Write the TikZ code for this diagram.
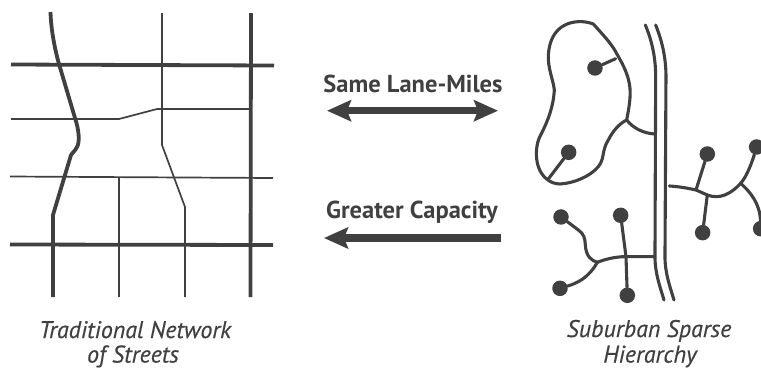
\documentclass[tikz,border=0pt]{standalone}
\usepackage{fontspec}
\setmainfont{PT Sans}
\newfontfamily\capfont[FakeBold=0.4]{PT Sans}
\usetikzlibrary{arrows.meta}
\definecolor{ink}{HTML}{404040}
\tikzset{
  heavy/.style={draw=ink,line width=3.8pt},
  light/.style={draw=ink,line width=1.7pt},
  lane/.style={draw=ink,line width=3.1pt,line cap=round,line join=round},
  dot/.style={circle,fill=ink,inner sep=0pt,minimum size=15.5pt},
  bigarrow/.style={draw=ink,line width=7.5pt},
  boldlabel/.style={text=ink,inner sep=0pt,anchor=base,font=\fontsize{24.5}{28}\selectfont\bfseries},
  caption/.style={text=ink,inner sep=0pt,anchor=base,font=\fontsize{24}{28}\selectfont\capfont\itshape}
}
\begin{document}
\begin{tikzpicture}[x=1pt,y=-1pt]
\useasboundingbox (0,0) rectangle (761,368);
% left grid
\coordinate (h1a) at (11,64.5); \coordinate (h1b) at (274,65.5);
\coordinate (h2a) at (10,244.5); \coordinate (h2b) at (273,245);
\coordinate (v1a) at (251,13); \coordinate (v1b) at (250.5,297);
\draw[heavy] (h1a) -- (h1b);
\draw[heavy] (h2a) -- (h2b);
\draw[heavy] (v1a) -- (v1b);
\coordinate (cola) at (50.5,12);
\coordinate (colb) at (53,297);
\draw[heavy,line join=round] (cola) .. controls (51,30) and (55,50) .. (59,64)
  -- (75,118) .. controls (79,130) and (80,142) .. (77,147)
  .. controls (75,151) and (73,152) .. (71,155) -- (53,215) -- (colb);
\coordinate (r1a) at (11,119); \coordinate (r1b) at (249,109);
\coordinate (r2a) at (10,176.5); \coordinate (r2b) at (273,178);
\coordinate (c1a) at (162,13); \coordinate (c1b) at (185,297);
\coordinate (c2a) at (119,177); \coordinate (c2b) at (119,297);
\draw[light] (r1a) -- (119,119) -- (157,109) -- (r1b);
\draw[light] (r2a) -- (r2b);
\draw[light] (c1a) -- (162,145) -- (185,207) -- (c1b);
\draw[light] (c2a) -- (c2b);
\node[caption] (capa) at (135,338) {Traditional Network};
\node[caption] (capb) at (133,362.5) {of Streets};
% arrows
\coordinate (d1) at (327,110.7); \coordinate (d2) at (498,110.7);
\draw[bigarrow,{Stealth[length=24pt,width=21pt,inset=4pt]}-{Stealth[length=24pt,width=21pt,inset=4pt]}] (d1) -- (d2);
\coordinate (g1) at (501,238); \coordinate (g2) at (324,238);
\draw[bigarrow,-{Stealth[length=24pt,width=21pt,inset=4pt]}] (g1) -- (g2);
\node[boldlabel] (same) at (413,92) {Same Lane-Miles};
\node[boldlabel] (cap) at (412,218) {Greater Capacity};
% right hierarchy
\begin{scope}[shift={(520,0)},x=0.3333pt,y=-0.3333pt]
\coordinate (e1a) at (376,75); \coordinate (e1b) at (432,900);
\coordinate (e2a) at (407,75); \coordinate (e2b) at (462,900);
\draw[lane] (e1a) .. controls (395,120) and (407,170) .. (407,230)
  -- (405,770) .. controls (405,820) and (420,860) .. (e1b);
\draw[lane] (e2a) .. controls (425,120) and (438,170) .. (438,230)
  -- (435,770) .. controls (435,820) and (450,860) .. (e2b);
\coordinate (j1) at (320,360);
\coordinate (j1b) at (405,402);
\draw[lane] (j1) .. controls (328,320) and (332,290) .. (330,265)
  .. controls (325,215) and (300,180) .. (287,155)
  .. controls (270,125) and (240,95) .. (220,72)
  .. controls (195,62) and (160,62) .. (135,75)
  .. controls (105,90) and (88,120) .. (85,165)
  .. controls (83,205) and (100,240) .. (103,270)
  .. controls (100,320) and (85,360) .. (62,405)
  .. controls (48,430) and (45,470) .. (55,500)
  .. controls (65,530) and (90,552) .. (120,552)
  .. controls (160,550) and (210,530) .. (235,500)
  .. controls (255,475) and (245,450) .. (265,420)
  .. controls (280,390) and (300,370) .. (j1);
\draw[lane] (j1) .. controls (340,385) and (370,400) .. (j1b);
\node[dot] (n1) at (225,204) {};
\coordinate (n1e) at (287,176);
\draw[lane] (n1) -- (n1e);
\node[dot] (n2) at (146,457) {};
\coordinate (n2e) at (85,537);
\draw[lane] (n2) -- (n2e);
% lower-left tree
\coordinate (tr) at (403,770);
\coordinate (tj) at (232,787);
\coordinate (tx) at (318,770);
\draw[lane] (tr) -- (tx) .. controls (285,770) and (255,778) .. (tj);
\node[dot] (a1) at (123,651) {};
\node[dot] (a2) at (120,865) {};
\node[dot] (a3) at (302,646) {};
\node[dot] (a4) at (322,886) {};
\draw[lane] (a1) -- (175,690) .. controls (192,702) and (195,715) .. (196,735)
  .. controls (198,770) and (215,782) .. (tj);
\draw[lane] (a2) .. controls (170,850) and (205,835) .. (tj);
\draw[lane] (a3) -- (tx) -- (a4);
% right tree
\coordinate (ts) at (448,558);
\coordinate (tj1) at (528,570);
\coordinate (tj2) at (562,585);
\coordinate (tj3) at (662,550);
\draw[lane] (ts) .. controls (480,560) and (505,565) .. (tj1) -- (tj2)
  .. controls (600,600) and (635,580) .. (tj3);
\node[dot] (b1) at (562,462) {};
\node[dot] (b2) at (548,698) {};
\node[dot] (b3) at (710,441) {};
\node[dot] (b4) at (722,686) {};
\draw[lane] (b1) -- (tj1);
\draw[lane] (b2) -- (tj2);
\draw[lane] (b3) .. controls (695,490) and (680,530) .. (tj3);
\draw[lane] (tj3) .. controls (690,575) and (720,610) .. (b4);
\end{scope}
\node[caption] (capc) at (649,337) {Suburban Sparse};
\node[caption] (capd) at (650,362.5) {Hierarchy};
\end{tikzpicture}
\end{document}
